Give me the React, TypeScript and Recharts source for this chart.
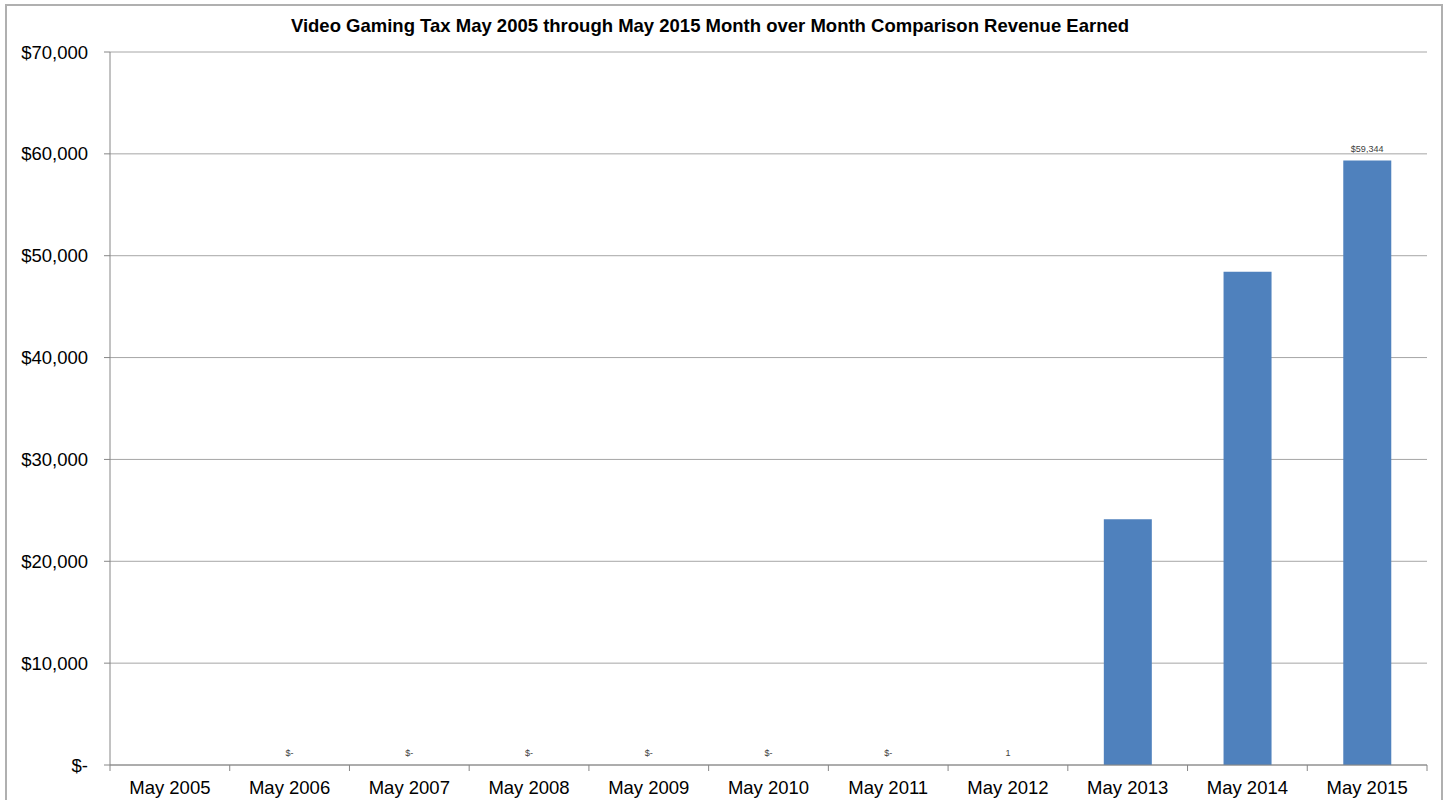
import { ComposedChart, Bar, Line, XAxis, YAxis, CartesianGrid } from "recharts";

const categories = [
  "May 2005", "May 2006", "May 2007", "May 2008", "May 2009", "May 2010",
  "May 2011", "May 2012", "May 2013", "May 2014", "May 2015",
];
const revenue = [0, 0, 0, 0, 0, 0, 0, 1, 24120, 48430, 59344];
const valueLabels = ["", "$-", "$-", "$-", "$-", "$-", "$-", "1", "", "", "$59,344"];
const yTicks = [0, 10000, 20000, 30000, 40000, 50000, 60000, 70000];

const data = categories.map((month, i) => ({ month, revenue: revenue[i] }));

const FONT = "'Liberation Sans', Arial, sans-serif";
const AXIS_GRAY = "#868686";
const PLOT_LEFT = 110;
const PLOT_RIGHT = 1427;
const band = (PLOT_RIGHT - PLOT_LEFT) / categories.length;

const fmtY = (v: number) => (v === 0 ? "$-" : "$" + v.toLocaleString("en-US"));

function MonthTick(props: any) {
  const { x, y, payload, index } = props;
  return (
    <g>
      <line x1={x - band / 2} x2={x - band / 2} y1={y} y2={y + 6} stroke={AXIS_GRAY} />
      {index === categories.length - 1 && (
        <line x1={x + band / 2} x2={x + band / 2} y1={y} y2={y + 6} stroke={AXIS_GRAY} />
      )}
      <text x={x} y={y + 29} textAnchor="middle" fontFamily={FONT} fontSize={18.5} fill="#000">
        {payload.value}
      </text>
    </g>
  );
}

// labels sit on an invisible line so zero-valued bars still get one
function ValueLabel(props: any) {
  const { x, y, index } = props;
  const label = valueLabels[index];
  if (!label) return null;
  return (
    <text x={x} y={y - 9} textAnchor="middle" fontFamily={FONT} fontSize={9} fill="#404040">
      {label}
    </text>
  );
}

export default function App() {
  return (
    <div style={{ position: "absolute", left: 0, top: 0, width: 1448, height: 800, background: "#fff" }}>
      <div
        style={{
          position: "absolute",
          left: 5,
          top: 4,
          width: 1438,
          height: 800,
          border: "2px solid #b0b0b0",
          boxSizing: "border-box",
        }}
      />
      <div
        style={{
          position: "absolute",
          left: 0,
          width: 1420,
          top: 15,
          textAlign: "center",
          fontFamily: FONT,
          fontWeight: "bold",
          fontSize: 18.5,
          lineHeight: "22px",
          color: "#000",
        }}
      >
        Video Gaming Tax May 2005 through May 2015 Month over Month Comparison Revenue Earned
      </div>
      <ComposedChart
        width={1448}
        height={800}
        data={data}
        margin={{ top: 52, right: 1448 - PLOT_RIGHT, left: 5, bottom: 5 }}
        style={{ position: "absolute", left: 0, top: 0 }}
      >
        <CartesianGrid horizontal vertical={false} stroke="#a6a6a6" />
        <XAxis
          dataKey="month"
          height={30}
          tickSize={0}
          tickMargin={0}
          tickLine={false}
          stroke={AXIS_GRAY}
          interval={0}
          tick={<MonthTick />}
        />
        <YAxis
          width={105}
          domain={[0, 70000]}
          ticks={yTicks}
          tickFormatter={fmtY}
          tickSize={6}
          tickMargin={16}
          stroke={AXIS_GRAY}
          tick={{ fill: "#000", fontFamily: FONT, fontSize: 18.5 }}
          allowDataOverflow
        />
        <Bar dataKey="revenue" fill="#4f81bd" barSize={48} isAnimationActive={false} />
        <Line
          dataKey="revenue"
          stroke="none"
          dot={false}
          activeDot={false}
          legendType="none"
          isAnimationActive={false}
          label={<ValueLabel />}
        />
      </ComposedChart>
    </div>
  );
}
